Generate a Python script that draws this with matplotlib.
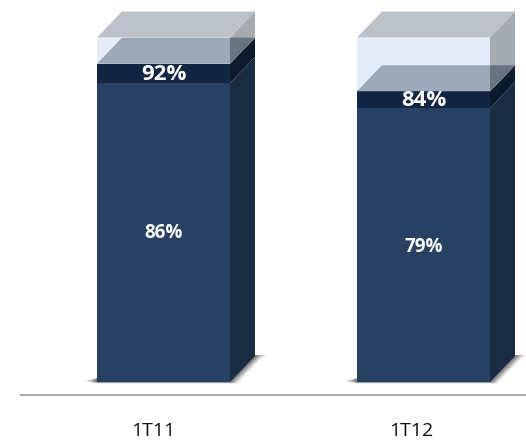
#!/usr/bin/env python3
import matplotlib
matplotlib.use("Agg")
import matplotlib.pyplot as plt
from matplotlib.patches import Polygon

# Data
periods = ["1T11", "1T12"]
lower_values = [86.8, 79.5]
middle_values = [5.6, 4.9]
total_values = [100, 100]
lower_labels = ["86%", "79%"]
middle_labels = ["92%", "84%"]

# Layout, in pixels of the 526x442 reference
W, H = 526, 442
PX_X = 260.0      # pixels between the two bars
PX_Y = 3.445      # pixels per percentage point
X0, Y0 = 163.5, 382.0
BAR_W = 133 / PX_X
DX = 25 / PX_X
DY = 26 / PX_Y
LOWER_LABEL_Y = [233, 247]
MIDDLE_LABEL_Y = [75, 100]
PERIOD_LABEL_X = [153.5, 411]
PERIOD_LABEL_Y = 431

plt.rcParams["font.family"] = ["Open Sans", "DejaVu Sans"]

fig = plt.figure(figsize=(W / 100, H / 100), dpi=100)
ax = fig.add_axes([0, 0, 1, 1])
ax.set_xlim(-X0 / PX_X, (W - X0) / PX_X)
ax.set_ylim(-(H - Y0) / PX_Y, Y0 / PX_Y)
ax.axis("off")


def to_y(py):
    return (Y0 - py) / PX_Y


def to_x(px):
    return (px - X0) / PX_X


def front(x, y0, y1, color, z):
    left, right = x - BAR_W / 2, x + BAR_W / 2
    ax.add_patch(Polygon([(left, y0), (right, y0), (right, y1), (left, y1)],
                         facecolor=color, edgecolor="none", zorder=z))


def side(x, y0, y1, color, z):
    right = x + BAR_W / 2
    ax.add_patch(Polygon([(right, y0), (right + DX, y0 + DY), (right + DX, y1 + DY), (right, y1)],
                         facecolor=color, edgecolor="none", zorder=z))


def cap(x, y, color, z):
    left, right = x - BAR_W / 2, x + BAR_W / 2
    ax.add_patch(Polygon([(left, y), (right, y), (right + DX, y + DY), (left + DX, y + DY)],
                         facecolor=color, edgecolor="none", zorder=z))


for i, period in enumerate(periods):
    low = lower_values[i]
    mid = low + middle_values[i]
    top = total_values[i]
    right = i + BAR_W / 2
    left = i - BAR_W / 2

    # soft floor shadow, built up from a few transparent layers
    for grow, alpha in [(1.0, 0.15), (0.75, 0.2), (0.5, 0.3), (0.25, 0.4)]:
        gx = grow / PX_X
        gy = grow / PX_Y
        ax.add_patch(Polygon([(left - 13 * gx, 1 / PX_Y), (left, -1.5 * gy), (right + 7 * gx, -1.5 * gy),
                              (right + DX + 7 * gx, DY - 1.5 * gy), (right + DX + 12 * gx, DY + 1 / PX_Y),
                              (right, DY), (left, 4 / PX_Y)],
                             facecolor="#505050", alpha=alpha, edgecolor="none", zorder=1))

    # lower block
    side(i, 0, low, "#1A2C42", 2)
    front(i, 0, low, "#284163", 3)
    # middle block
    side(i, low, mid, "#0C1A2C", 2)
    front(i, low, mid, "#122644", 3)
    # top block, see-through, so the middle cap shows inside it
    side(i, mid, top, "#A5ABAF", 2)
    front(i, mid, top, "#E4ECF7", 3)
    cap(i, mid, "#9CA9B9", 4)
    ax.add_patch(Polygon([(right, mid), (right + DX, mid + DY), (right + DX, min(mid + DY, top + DY)),
                          (right, min(mid + DY, top))],
                         facecolor="#677480", edgecolor="none", zorder=4))
    cap(i, top, "#BDC2CA", 5)

    ax.text(i, to_y(LOWER_LABEL_Y[i]), lower_labels[i], color="white",
            fontsize=13.5, fontweight="bold", ha="center", va="center", zorder=6)
    ax.text(i, to_y(MIDDLE_LABEL_Y[i]), middle_labels[i], color="white",
            fontsize=16, fontweight="bold", ha="center", va="center", zorder=6)
    ax.text(to_x(PERIOD_LABEL_X[i]), to_y(PERIOD_LABEL_Y), period, color="#111111", fontsize=14,
            ha="center", va="center", zorder=6)

# baseline
ax.plot([to_x(21), to_x(W)], [to_y(394.5)] * 2, color="#ABABAB", lw=1.4, zorder=1)

fig.savefig("out.png", dpi=100)
